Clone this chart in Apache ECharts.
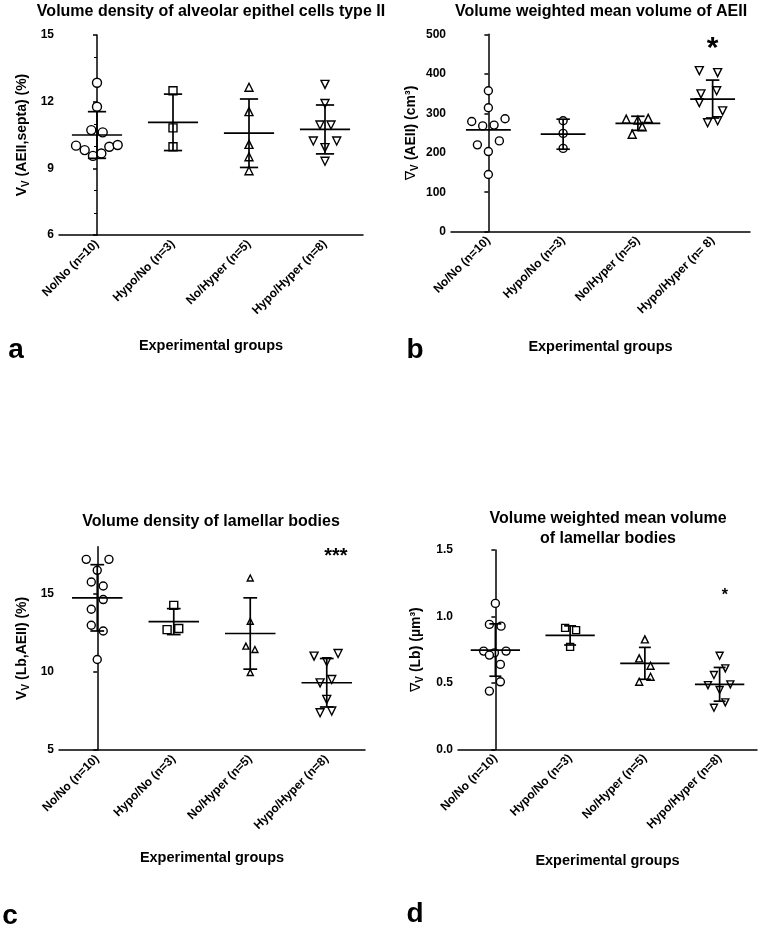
<!DOCTYPE html>
<html><head><meta charset="utf-8">
<script src="https://cdn.jsdelivr.net/npm/echarts@6/dist/echarts.min.js"></script>
<style>html,body{margin:0;padding:0;background:#fff}#c{width:760px;height:930px}</style>
</head><body><div id="c"></div>
<script>
// ---------- DATA ----------
const categories = ['No/No (n=10)', 'Hypo/No (n=3)', 'No/Hyper (n=5)', 'Hypo/Hyper (n=8)'];
const categoriesB = ['No/No (n=10)', 'Hypo/No (n=3)', 'No/Hyper (n=5)', 'Hypo/Hyper (n= 8)'];

// Panel a: Vv(AEII,septa) (%)
const aNoNo = [12.85, 11.77, 10.72, 10.62, 10.02, 9.82, 9.56, 9.67, 9.97, 10.05];
const aHypoNo = [12.49, 10.82, 9.97];
const aNoHyper = [12.65, 11.55, 10.08, 9.52, 8.89];
const aHypoHyper = [12.78, 11.92, 10.95, 10.95, 10.23, 10.23, 9.93, 9.32];
const aJitter = [
  [0, 0, -0.075, 0.075, -0.276, -0.162, -0.053, 0.057, 0.162, 0.272],
  [0, 0, 0],
  [0, 0, 0, 0, 0],
  [0, 0, -0.066, 0.079, -0.154, 0.154, 0, 0]
];
const aMean = [10.5, 11.07, 10.58, 10.75];
const aSD = [1.05, 1.27, 1.54, 1.1];

// Panel b: volume weighted mean volume of AEII
const bNoNo = [357, 314, 279, 268, 270, 286, 220, 230, 203, 145];
const bHypoNo = [281, 249, 211];
const bNoHyper = [285, 283, 287, 266, 247];
const bHypoHyper = [408, 403, 357, 349, 306, 327, 276, 281];
const bJitter = [
  [0, 0, -0.223, -0.076, 0.076, 0.223, -0.147, 0.147, 0, 0],
  [0, 0, 0],
  [-0.156, 0, 0.138, 0.058, -0.076],
  [-0.178, 0.067, 0.054, -0.156, 0.134, -0.178, -0.067, 0.067]
];
const bMean = [258, 247, 274.6, 336];
const bSD = [null, 38, 17.8, 48];

// Panel c: Vv(Lb,AEII) (%)
const cNoNo = [17.19, 17.19, 16.49, 15.74, 15.49, 14.62, 14.0, 12.98, 12.61, 10.79];
const cHypoNo = [14.25, 12.7, 12.77];
const cNoHyper = [16.0, 13.23, 11.64, 11.43, 9.96];
const cHypoHyper = [11.0, 11.17, 10.64, 9.29, 9.51, 8.24, 7.38, 7.49];
const cJitter = [
  [-0.144, 0.153, 0, -0.078, 0.078, 0.078, -0.078, -0.078, 0.078, 0],
  [0, -0.087, 0.065],
  [0, 0, -0.057, 0.061, 0],
  [-0.166, 0.148, 0, -0.087, 0.065, 0, -0.087, 0.065]
];
const cMean = [14.73, 13.21, 12.45, 9.3];
const cSD = [2.12, 0.83, 2.28, 1.55];

// Panel d: volume weighted mean volume of lamellar bodies
const dNoNo = [1.098, 0.94, 0.927, 0.739, 0.726, 0.739, 0.709, 0.639, 0.508, 0.438];
const dHypoNo = [0.914, 0.897, 0.771];
const dNoHyper = [0.827, 0.684, 0.629, 0.508, 0.546];
const dHypoHyper = [0.704, 0.609, 0.559, 0.483, 0.489, 0.446, 0.353, 0.313];
const dJitter = [
  [0, -0.08, 0.076, -0.157, -0.013, 0.143, -0.08, 0.067, 0.067, -0.08],
  [-0.067, 0.08, 0],
  [0, -0.076, 0.076, -0.076, 0.076],
  [0, 0.076, -0.076, -0.156, 0.143, 0, 0.076, -0.076]
];
const dMean = [0.747, 0.857, 0.647, 0.489];
const dSD = [0.197, 0.072, 0.12, 0.127];

// significance marks: [group, value, text]
const bSig = [3, 464, '*'];
const cSig = [3.12, 17.35, '***'];
const dSig = [3.07, 1.16, '*'];

// ---------- CHART ----------
const FONT = '"Liberation Sans", Arial, Helvetica, sans-serif';
const chart = echarts.init(document.getElementById('c'), null, {renderer: 'canvas'});

const grids = [
  {left: 59, top: 35, width: 304, height: 200},
  {left: 451, top: 34.3, width: 299, height: 197.4},
  {left: 59, top: 546.7, width: 306, height: 203.3},
  {left: 458, top: 550, width: 299, height: 199.3}
];

const panels = [
  {groups: [aNoNo, aHypoNo, aNoHyper, aHypoHyper], jitter: aJitter, mean: aMean, sd: aSD, cats: categories,
   symbols: ['circle', 'rect', 'triangle', 'triangle'], sizes: [9, 8, 8, 8],
   y: {min: 6, max: 15, interval: 3, minorTick: {show: true, splitNumber: 3, length: 3, lineStyle: {color: '#000', width: 1}}},
   yName: '{m|V}{s|V}{m| (AEII,septa) (%)}', yGap: 28, xGap: 103, half: 0.33, cap: 0.12, sig: null},
  {groups: [bNoNo, bHypoNo, bNoHyper, bHypoHyper], jitter: bJitter, mean: bMean, sd: bSD, cats: categoriesB,
   symbols: ['circle', 'circle', 'triangle', 'triangle'], sizes: [8, 8, 8, 8],
   y: {min: 0, max: 500, interval: 100},
   yName: '{n|∇}{s|V}{m| (AEII) (cm³)}', yGap: 31, xGap: 108, half: 0.3, cap: 0.09, sig: bSig, sigSize: 30},
  {groups: [cNoNo, cHypoNo, cNoHyper, cHypoHyper], jitter: cJitter, mean: cMean, sd: cSD, cats: categories,
   symbols: ['circle', 'rect', 'triangle', 'triangle'], sizes: [8, 8, 6, 8],
   y: {min: 5, max: 18, interval: 5},
   yName: '{m|V}{s|V}{m| (Lb,AEII) (%)}', yGap: 28, xGap: 100, half: 0.33, cap: 0.09, sig: cSig, sigSize: 20},
  {groups: [dNoNo, dHypoNo, dNoHyper, dHypoHyper], jitter: dJitter, mean: dMean, sd: dSD, cats: categories,
   symbols: ['circle', 'rect', 'triangle', 'triangle'], sizes: [8, 7, 7, 7],
   y: {min: 0, max: 1.5, interval: 0.5, fmt: v => v.toFixed(1)},
   yName: '{n|∇}{s|V}{m| (Lb) (µm³)}', yGap: 33, xGap: 104, half: 0.33, cap: 0.08, sig: dSig, sigSize: 16}
];

const rich = {
  m: {fontSize: 14, fontWeight: 'bold', color: '#000', fontFamily: FONT, lineHeight: 18},
  n: {fontSize: 14, fontWeight: 'normal', color: '#000', fontFamily: 'DejaVu Sans', lineHeight: 18},
  s: {fontSize: 10, fontWeight: 'bold', color: '#000', fontFamily: FONT, verticalAlign: 'bottom', lineHeight: 14}
};

const xAxis = [], yAxis = [], series = [];
panels.forEach((p, k) => {
  xAxis.push({
    type: 'category', gridIndex: k, data: p.cats, boundaryGap: true,
    axisLine: {lineStyle: {color: '#000', width: 1.5}},
    axisTick: {alignWithLabel: true, length: 4, lineStyle: {color: '#000', width: 1.5}},
    axisLabel: {rotate: 45, interval: 0, fontSize: 12, fontWeight: 'bold', color: '#000', fontFamily: FONT, margin: 7},
    splitLine: {show: false},
    name: 'Experimental groups', nameLocation: 'middle', nameGap: p.xGap,
    nameTextStyle: {fontSize: 14.5, fontWeight: 'bold', color: '#000', fontFamily: FONT}
  });
  xAxis.push({type: 'value', gridIndex: k, min: -0.5, max: 3.5, show: false});
  yAxis.push({
    type: 'value', gridIndex: k, min: p.y.min, max: p.y.max, interval: p.y.interval,
    axisLine: {show: true, lineStyle: {color: '#000', width: 1.5}},
    axisTick: {show: true, length: 4, lineStyle: {color: '#000', width: 1.5}},
    minorTick: p.y.minorTick || {show: false},
    splitLine: {show: false},
    axisLabel: {fontSize: 12, fontWeight: 'bold', color: '#000', fontFamily: FONT, margin: 5,
      showMaxLabel: Math.abs(p.y.max / p.y.interval - Math.round(p.y.max / p.y.interval)) < 1e-9,
      formatter: p.y.fmt || (v => String(v))},
    name: p.yName, nameLocation: 'middle', nameGap: p.yGap,
    nameTextStyle: {rich: rich}
  });
  p.groups.forEach((vals, g) => {
    series.push({
      type: 'scatter', xAxisIndex: 2 * k + 1, yAxisIndex: k,
      symbol: p.symbols[g], symbolSize: p.sizes[g], symbolRotate: g === 3 ? 180 : 0,
      itemStyle: {color: '#fff', borderColor: '#000', borderWidth: 1.4, opacity: 1},
      emphasis: {disabled: true}, silent: true, z: 2,
      data: vals.map((v, j) => [g + p.jitter[g][j], v])
    });
  });
  const half = p.half, cap = p.cap;
  series.push({
    type: 'custom', xAxisIndex: 2 * k + 1, yAxisIndex: k, z: 3, silent: true,
    data: p.mean.map((m, g) => [g, m, p.sd[g] == null ? NaN : p.sd[g]]),
    renderItem: (params, api) => {
      const g = api.value(0), m = api.value(1), s = api.value(2);
      const c = api.coord([g, m]);
      const band = api.size([1, 0])[0];
      const st = {stroke: '#000', lineWidth: 1.7};
      const ch = [{type: 'line', shape: {x1: c[0] - half * band, y1: c[1], x2: c[0] + half * band, y2: c[1]}, style: st}];
      if (!isNaN(s)) {
        const t = api.coord([g, m + s]), b = api.coord([g, m - s]);
        ch.push({type: 'line', shape: {x1: c[0], y1: t[1], x2: c[0], y2: b[1]}, style: st});
        ch.push({type: 'line', shape: {x1: c[0] - cap * band, y1: t[1], x2: c[0] + cap * band, y2: t[1]}, style: st});
        ch.push({type: 'line', shape: {x1: c[0] - cap * band, y1: b[1], x2: c[0] + cap * band, y2: b[1]}, style: st});
      }
      return {type: 'group', children: ch};
    }
  });
  if (p.sig) {
    series.push({
      type: 'scatter', xAxisIndex: 2 * k + 1, yAxisIndex: k, symbolSize: 0, silent: true, z: 5,
      itemStyle: {opacity: 1, color: '#000'},
      data: [[p.sig[0], p.sig[1]]],
      label: {show: true, position: 'inside', formatter: p.sig[2], fontSize: p.sigSize, fontWeight: 'bold', color: '#000', opacity: 1, fontFamily: FONT}
    });
  }
});

const txt = (x, y, text, size) => ({
  type: 'text', x: x, y: y, silent: true,
  style: {text: text, fontSize: size, fontWeight: 'bold', fill: '#000', fontFamily: FONT, textAlign: 'center', textVerticalAlign: 'middle'}
});

chart.setOption({
  animation: false,
  grid: grids.map(g => Object.assign({containLabel: false}, g)),
  xAxis: xAxis, yAxis: yAxis, series: series,
  graphic: [
    txt(211, 12, 'Volume density of alveolar epithel cells type II', 16),
    txt(601, 12, 'Volume weighted mean volume of AEII', 16),
    txt(211, 522, 'Volume density of lamellar bodies', 16),
    txt(608, 519, 'Volume weighted mean volume', 16),
    txt(608, 539, 'of lamellar bodies', 16),
    txt(16, 350, 'a', 28),
    txt(415, 350, 'b', 28),
    txt(10, 916, 'c', 28),
    txt(415, 914, 'd', 28)
  ]
});
</script>
</body></html>
